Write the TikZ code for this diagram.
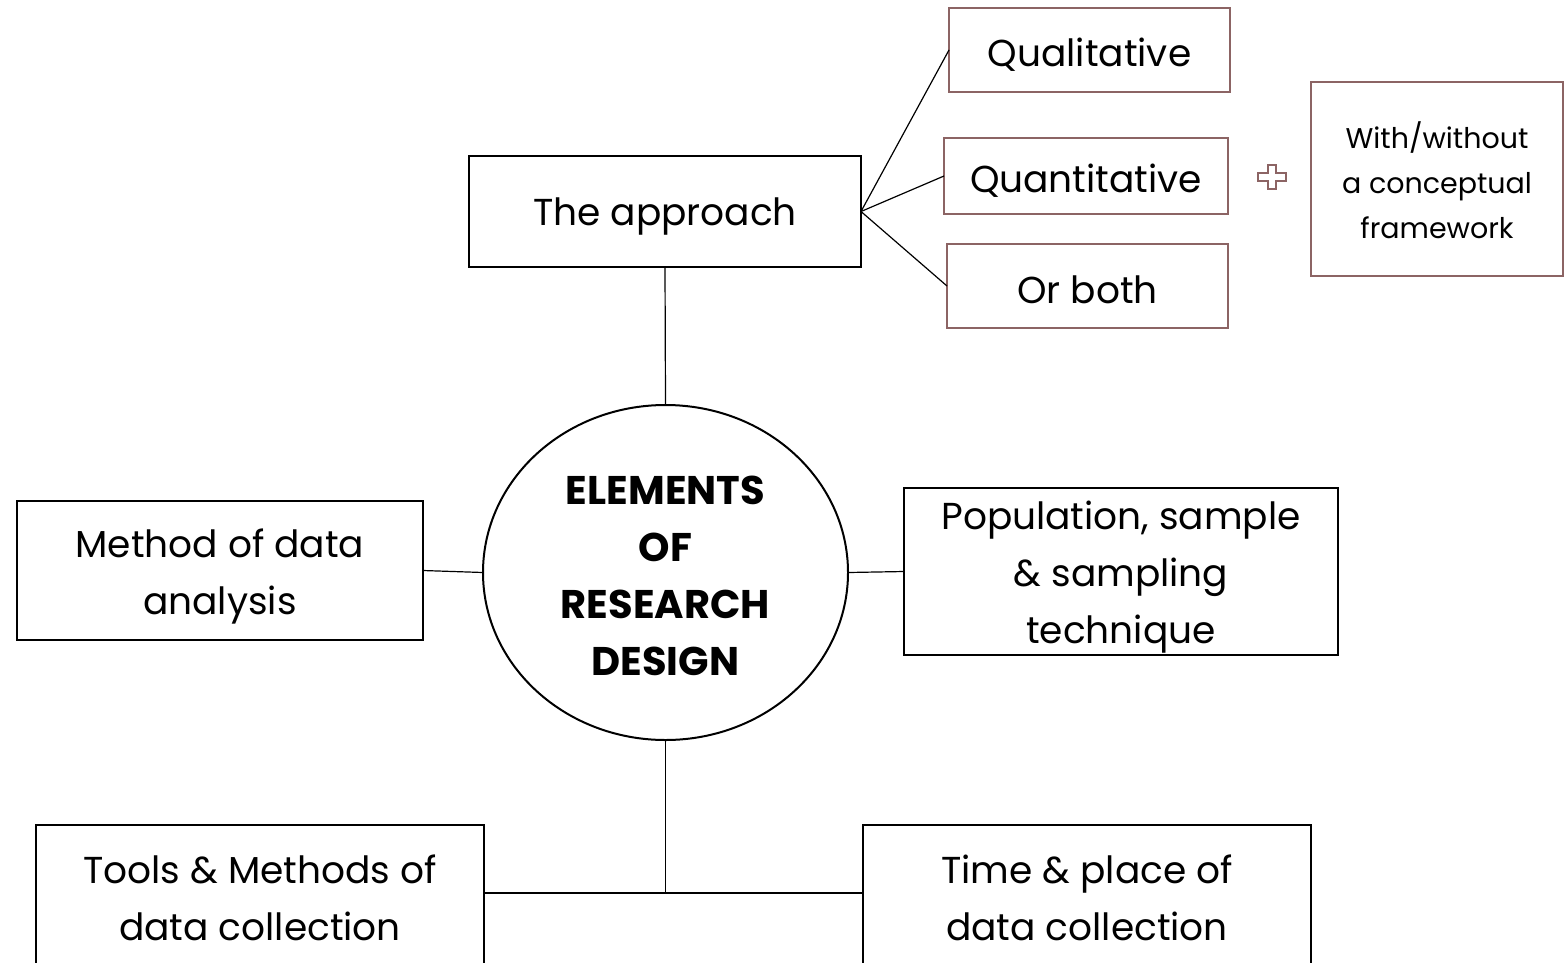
\documentclass[tikz,border=0pt]{standalone}
\usepackage{fontspec}
\setmainfont{Poppins}
\usetikzlibrary{shapes.geometric}
\definecolor{rosebrown}{HTML}{8C6464}
\begin{document}
\begin{tikzpicture}[x=1pt,y=-1pt,
  every node/.style={inner sep=0pt, outer sep=0pt, align=center},
  mainbox/.style={draw=black, line width=2pt, rectangle},
  choicebox/.style={draw=rosebrown, line width=2pt, rectangle},
  bigtext/.style={font=\fontsize{37.5}{57}\selectfont},
  smalltext/.style={font=\fontsize{28.5}{45}\selectfont},
  % box caption set slightly below the geometric centre
  caption/.style 2 args={label={[#1]center:{#2}}},
  link/.style={draw=black, line width=1.2pt}]
\useasboundingbox (0,0) rectangle (1568,962);

% central ellipse
\node[ellipse, draw=black, line width=2pt, minimum width=365pt, minimum height=335pt,
      caption={font=\fontsize{40}{57}\selectfont\bfseries, yshift=-3pt}{ELEMENTS\\OF\\RESEARCH\\DESIGN}]
  (core) at (665.5,572.5) {};

% surrounding boxes
\node[mainbox, minimum width=392pt, minimum height=111pt,
      caption={bigtext, yshift=-5pt}{The approach}] (approach) at (665,211.5) {};
\node[mainbox, minimum width=406pt, minimum height=139pt,
      caption={bigtext, yshift=-6pt}{Method of data\\analysis}] (method) at (220,570.5) {};
\node[mainbox, minimum width=434pt, minimum height=167pt,
      caption={bigtext, yshift=-6pt}{Population, sample\\\& sampling\\technique}] (pop) at (1121,571.5) {};
\node[mainbox, minimum width=448pt, minimum height=150pt,
      caption={bigtext, yshift=2pt}{Tools \& Methods of\\data collection}] (tools) at (260,900) {};
\node[mainbox, minimum width=448pt, minimum height=150pt,
      caption={bigtext, yshift=2pt}{Time \& place of\\data collection}] (time) at (1087,900) {};

% approach options
\node[choicebox, minimum width=281pt, minimum height=84pt,
      caption={bigtext, yshift=-5pt}{Qualitative}] (qual) at (1089.5,50) {};
\node[choicebox, minimum width=284pt, minimum height=76pt,
      caption={bigtext, yshift=-5pt}{Quantitative}] (quant) at (1086,176) {};
\node[choicebox, minimum width=281pt, minimum height=84pt,
      caption={bigtext, yshift=-4pt}{Or both}] (both) at (1087.5,286) {};
\node[choicebox, minimum width=252pt, minimum height=194pt,
      caption={smalltext, yshift=-1pt}{With/without\\a conceptual\\framework}] (frame) at (1437,179) {};

% plus sign between quantitative and framework
\coordinate (plus) at (1272,177);
\draw[rosebrown, line width=1.6pt, line join=miter]
  ([shift={(-4,-12)}]plus) -- ([shift={(4,-12)}]plus) -- ([shift={(4,-4)}]plus)
  -- ([shift={(14,-4)}]plus) -- ([shift={(14,4)}]plus) -- ([shift={(4,4)}]plus)
  -- ([shift={(4,12)}]plus) -- ([shift={(-4,12)}]plus) -- ([shift={(-4,4)}]plus)
  -- ([shift={(-14,4)}]plus) -- ([shift={(-14,-4)}]plus) -- ([shift={(-4,-4)}]plus) -- cycle;

% connectors
\coordinate (fan) at (approach.east);
\draw[link] (fan) -- (qual.west);
\draw[link] (fan) -- (quant.west);
\draw[link] (fan) -- (both.west);
\draw[link] (approach.south) -- (core.north);
\draw[link] (method.east) -- (core.west);
\draw[link] (core.east) -- (pop.west);
\coordinate (junction) at (core.south |- 0,893);
\draw[link] (core.south) -- (junction);
\draw[link] (tools.east |- junction) -- (time.west |- junction);
\end{tikzpicture}
\end{document}
